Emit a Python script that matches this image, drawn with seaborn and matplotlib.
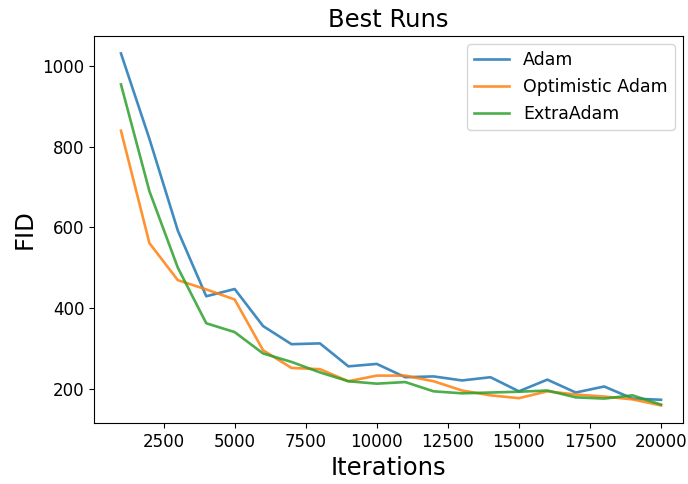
import pandas as pd
import matplotlib
matplotlib.use('Agg')
import matplotlib.pyplot as plt
import seaborn as sns
import numpy as np

iterations = [1000, 2000, 3000, 4000, 5000, 6000, 7000, 8000, 9000, 10000,
              11000, 12000, 13000, 14000, 15000, 16000, 17000, 18000, 19000, 20000]
adam = [1032, 820, 592, 429, 447, 355, 310, 312, 255, 261,
        228, 230, 220, 228, 193, 222, 190, 205, 175, 172]
optimistic_adam = [840, 561, 469, 446, 421, 295, 251, 248, 218, 232,
                   232, 218, 195, 183, 176, 193, 185, 180, 173, 158]
extra_adam = [955, 690, 500, 362, 340, 287, 266, 240, 218, 212,
              216, 193, 188, 190, 192, 195, 178, 175, 183, 160]
names = ['Adam', 'Optimistic Adam', 'ExtraAdam']

# long format table for seaborn
df = pd.DataFrame({
    'Iterations': iterations * 3,
    'FID': adam + optimistic_adam + extra_adam,
    'Optimizer': sum([[n] * len(iterations) for n in names], []),
})

fig, ax = plt.subplots(figsize=(6.88, 4.84), dpi=100)
sns.lineplot(data=df, x='Iterations', y='FID', hue='Optimizer',
             palette=['#1f77b4', '#ff7f0e', '#2ca02c'], linewidth=1.9,
             alpha=0.85, ax=ax)

# legend without title
handles, labels = ax.get_legend_handles_labels()
ax.legend(handles, labels, loc='upper right', fontsize=12.5)

ax.set_xlim(60, 20780)
ax.set_title('Best Runs', fontsize=17.5)
ax.set_xlabel('Iterations', fontsize=17.5)
ax.set_ylabel('FID', fontsize=17.5)
ax.tick_params(labelsize=12)

plt.subplots_adjust(left=0.137, right=0.993, top=0.926, bottom=0.126)
plt.savefig('out.png')
